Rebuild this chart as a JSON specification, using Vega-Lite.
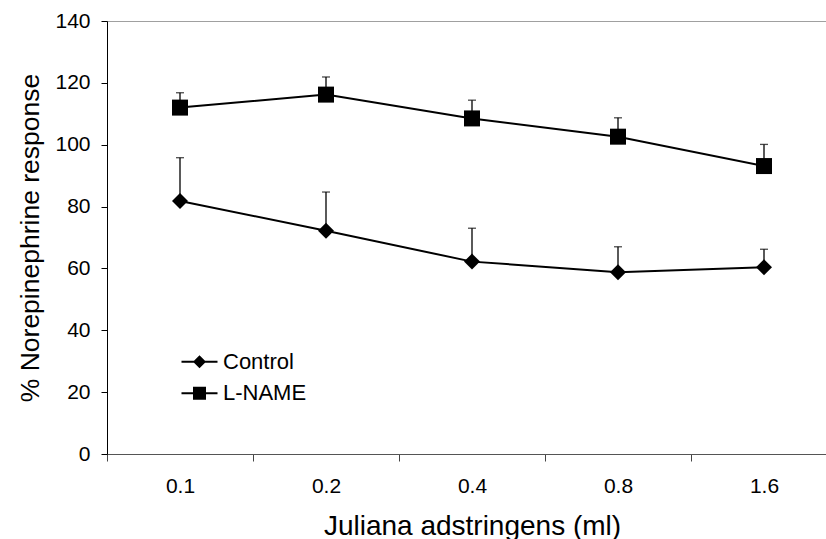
{
  "$schema": "https://vega.github.io/schema/vega-lite/v6.json",
  "width": 719,
  "height": 433,
  "autosize": {"type": "none"},
  "padding": {"left": 107, "top": 21, "right": 0, "bottom": 85},
  "background": "white",
  "config": {
    "font": "Liberation Sans",
    "view": {"stroke": "#a0a0a0", "strokeWidth": 1},
    "axis": {"grid": false, "labelColor": "black", "titleColor": "black", "titleFontWeight": "normal"}
  },
  "data": {
    "values": [
      {"dose": "0.1", "group": "Control", "mean": 81.8, "upper": 95.8},
      {"dose": "0.2", "group": "Control", "mean": 72.2, "upper": 84.7},
      {"dose": "0.4", "group": "Control", "mean": 62.2, "upper": 73.0},
      {"dose": "0.8", "group": "Control", "mean": 58.8, "upper": 67.0},
      {"dose": "1.6", "group": "Control", "mean": 60.4, "upper": 66.2},
      {"dose": "0.1", "group": "L-NAME", "mean": 112.0, "upper": 116.8},
      {"dose": "0.2", "group": "L-NAME", "mean": 116.2, "upper": 121.9},
      {"dose": "0.4", "group": "L-NAME", "mean": 108.5, "upper": 114.4},
      {"dose": "0.8", "group": "L-NAME", "mean": 102.6, "upper": 108.7},
      {"dose": "1.6", "group": "L-NAME", "mean": 93.1, "upper": 100.1}
    ]
  },
  "encoding": {
    "x": {
      "field": "dose",
      "type": "ordinal",
      "sort": ["0.1", "0.2", "0.4", "0.8", "1.6"],
      "scale": {"type": "band", "range": [0, 730], "paddingInner": 0, "paddingOuter": 0},
      "axis": {
        "title": "Juliana adstringens (ml)",
        "titleFontSize": 28,
        "titlePadding": 16,
        "labelAngle": 0,
        "labelFontSize": 21,
        "labelPadding": 14,
        "tickBand": "extent",
        "tickSize": 7,
        "tickColor": "#444",
        "domainColor": "#555"
      }
    }
  },
  "resolve": {"scale": {"shape": "independent"}, "legend": {"shape": "independent"}},
  "layer": [
    {
      "mark": {"type": "rule", "color": "black", "strokeWidth": 1.3},
      "encoding": {
        "y": {"field": "mean", "type": "quantitative", "scale": {"domain": [0, 140]},
          "axis": {"title": "% Norepinephrine response", "titleFontSize": 26.5, "titlePadding": 10, "values": [0, 20, 40, 60, 80, 100, 120, 140], "labelFontSize": 21, "labelPadding": 11, "tickSize": 6, "tickColor": "black", "domainColor": "black"}},
        "y2": {"field": "upper"},
        "detail": {"field": "group"}
      }
    },
    {
      "mark": {"type": "tick", "color": "black", "thickness": 1.3, "size": 8},
      "encoding": {
        "y": {"field": "upper", "type": "quantitative", "scale": {"domain": [0, 140]},
          "axis": {"title": "% Norepinephrine response", "titleFontSize": 26.5, "titlePadding": 10, "values": [0, 20, 40, 60, 80, 100, 120, 140], "labelFontSize": 21, "labelPadding": 11, "tickSize": 6, "tickColor": "black", "domainColor": "black"}}
      }
    },
    {
      "mark": {"type": "line", "color": "black", "strokeWidth": 2},
      "encoding": {
        "y": {"field": "mean", "type": "quantitative", "scale": {"domain": [0, 140]},
          "axis": {"title": "% Norepinephrine response", "titleFontSize": 26.5, "titlePadding": 10, "values": [0, 20, 40, 60, 80, 100, 120, 140], "labelFontSize": 21, "labelPadding": 11, "tickSize": 6, "tickColor": "black", "domainColor": "black"}},
        "detail": {"field": "group"}
      }
    },
    {
      "mark": {"type": "point", "filled": true, "color": "black", "opacity": 1, "size": 256},
      "encoding": {
        "y": {"field": "mean", "type": "quantitative", "scale": {"domain": [0, 140]},
          "axis": {"title": "% Norepinephrine response", "titleFontSize": 26.5, "titlePadding": 10, "values": [0, 20, 40, 60, 80, 100, 120, 140], "labelFontSize": 21, "labelPadding": 11, "tickSize": 6, "tickColor": "black", "domainColor": "black"}},
        "shape": {
          "field": "group",
          "type": "nominal",
          "scale": {"domain": ["Control", "L-NAME"], "range": ["M-1,0L0,-1L1,0L0,1Z", "M-1,-1L1,-1L1,1L-1,1Z"]},
          "legend": null
        }
      }
    },
    {
      "mark": {"type": "point", "filled": true, "color": "black", "opacity": 0, "size": 169},
      "encoding": {
        "y": {"field": "mean", "type": "quantitative", "scale": {"domain": [0, 140]},
          "axis": {"title": "% Norepinephrine response", "titleFontSize": 26.5, "titlePadding": 10, "values": [0, 20, 40, 60, 80, 100, 120, 140], "labelFontSize": 21, "labelPadding": 11, "tickSize": 6, "tickColor": "black", "domainColor": "black"}},
        "shape": {
          "field": "group",
          "type": "nominal",
          "scale": {
            "domain": ["Control", "L-NAME"],
            "range": [
              "M-2.77,-0.154L2.77,-0.154L2.77,0.154L-2.77,0.154Z M-1,0L0,-1L1,0L0,1Z",
              "M-2.77,-0.154L2.77,-0.154L2.77,0.154L-2.77,0.154Z M-1,-1L1,-1L1,1L-1,1Z"
            ]
          },
          "legend": {
            "orient": "none",
            "legendX": 81.5,
            "legendY": 329.7,
            "title": null,
            "padding": 0,
            "labelFontSize": 22,
            "labelColor": "black",
            "labelOffset": 12.5,
            "rowPadding": 9.6,
            "symbolSize": 169,
            "symbolFillColor": "black",
            "symbolStrokeWidth": 0,
            "symbolOpacity": 1
          }
        }
      }
    }
  ]
}
